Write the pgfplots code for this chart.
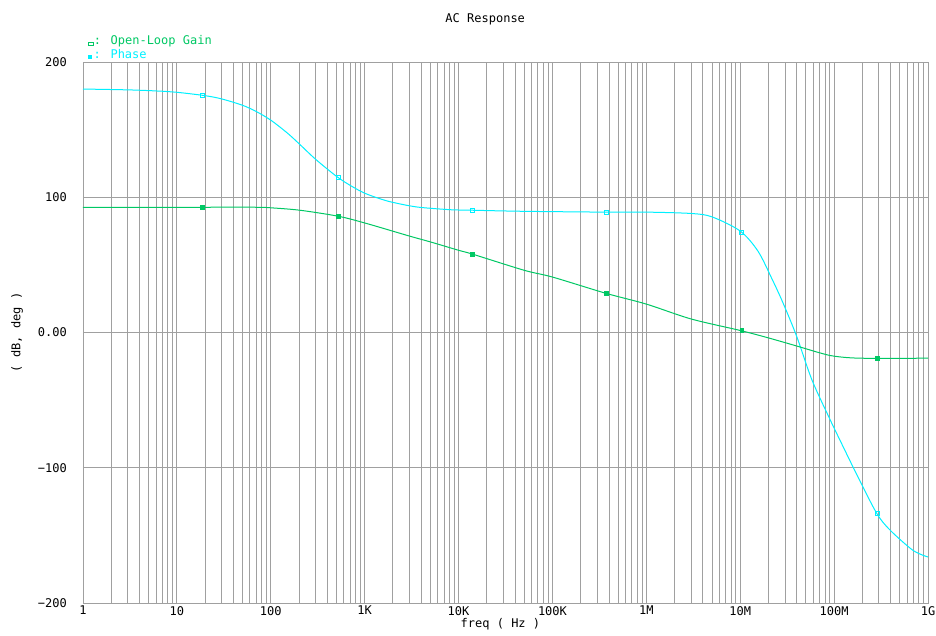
\documentclass[border=0pt]{standalone}
\usepackage{fontspec}
\setmainfont{DejaVu Sans Mono}
\usepackage{pgfplots}
\pgfplotsset{compat=1.18}
\definecolor{gaincol}{RGB}{0,200,100}
\definecolor{phasecol}{RGB}{0,240,255}
\definecolor{gridcol}{RGB}{160,160,160}
\begin{document}
\fontsize{12}{14}\selectfont
\begin{tikzpicture}
\useasboundingbox (-83pt,-32pt) rectangle (853pt,603pt);
\begin{axis}[
  at={(0,0)}, anchor=south west,
  scale only axis, width=845pt, height=541pt,
  xmode=log, xmin=1, xmax=1e9, ymin=-200, ymax=200,
  xtick={1,10,100,1000,1e4,1e5,1e6,1e7,1e8,1e9},
  xticklabels={1,10,100,1K,10K,100K,1M,10M,100M,1G},
  minor xtick={2,3,4,5,6,7,8,9,20,30,40,50,60,70,80,90,200,300,400,500,600,700,800,900,2e3,3e3,4e3,5e3,6e3,7e3,8e3,9e3,2e4,3e4,4e4,5e4,6e4,7e4,8e4,9e4,2e5,3e5,4e5,5e5,6e5,7e5,8e5,9e5,2e6,3e6,4e6,5e6,6e6,7e6,8e6,9e6,2e7,3e7,4e7,5e7,6e7,7e7,8e7,9e7,2e8,3e8,4e8,5e8,6e8,7e8,8e8,9e8},
  ytick={-200,-100,0,100,200},
  yticklabels={−200,−100,0.00,100,200},
  xmajorgrids=true, xminorgrids=true, ymajorgrids=true,
  major grid style={gridcol, line width=0.9pt},
  minor grid style={gridcol, line width=0.9pt},
  axis line style={gridcol, line width=0.9pt},
  major tick length=0pt, minor tick length=0pt,
  yticklabel style={xshift=-12pt},
  xticklabel style={yshift=1pt},
  clip=false,
]
% Phase
\addplot[phasecol, line width=1pt, smooth] coordinates {
(1,180) (3,179.4) (6,178.6) (10,177.6) (20,175.1) (30,172.7) (50,168) (70,163.4)
(100,157) (150,147.5) (200,139.6) (300,128.1) (500,115.5) (700,108.8) (1000,103)
(1500,98.6) (2000,96.2) (3600,92.8) (8100,90.8) (14000,90.4) (50000,89.6) (370000,89) (1e6,89) (3e6,88)
(5e6,85.5) (1e7,75) (1.55e7,60) (2.2e7,39) (2.85e7,22) (4e7,-3) (5.8e7,-35)
(9e7,-64) (1.3e8,-87) (1.86e8,-109) (2.86e8,-134) (3.93e8,-146) (6.9e8,-161) (1e9,-166)
};
% Gain
\addplot[gaincol, line width=1pt, smooth] coordinates {
(1,92.6) (10,92.6) (18,92.6) (71,92.6) (100,92.2) (204,90.4) (520,86) (1000,81)
(3000,71.3) (5000,67) (1e4,60.8) (14000,58) (5e4,46) (1e5,41) (370000,29) (1e6,21)
(3e6,10) (1e7,1.5) (2e7,-4) (4e7,-10) (7e7,-15) (1e8,-17.5) (1.9e8,-19) (1e9,-19)
};
% markers
\addplot[only marks, mark=square, mark size=2pt, phasecol, mark options={line width=0.8pt}] coordinates {
(18.5,175.5) (520,115) (13900,90.4) (371000,89) (1.04e7,74) (2.86e8,-134)
};
\addplot[only marks, mark=square*, mark size=1.8pt, gaincol] coordinates {
(18.5,92.6) (520,86) (13900,58) (371000,29) (1.04e7,1.5) (2.86e8,-19)
};
\node[rotate=90] at ([xshift=-66pt]rel axis cs:0,0.5) {( dB, deg )};
\node at ([yshift=43pt]rel axis cs:0.476,1) {AC Response};
\node[anchor=west, text=gaincol, inner sep=0pt] at ([xshift=5pt,yshift=20.5pt]rel axis cs:0,1)
  {{\setlength{\fboxsep}{0pt}\setlength{\fboxrule}{0.8pt}\fbox{\rule{4pt}{0pt}\rule{0pt}{2pt}}}: Open-Loop Gain};
\node[anchor=west, text=phasecol, inner sep=0pt] at ([xshift=5pt,yshift=7.5pt]rel axis cs:0,1)
  {\rule{3.5pt}{4pt}\hspace{2pt}: Phase};
\node at ([yshift=-21pt]rel axis cs:0.494,0) {freq ( Hz )};
\end{axis}
\end{tikzpicture}
\end{document}
